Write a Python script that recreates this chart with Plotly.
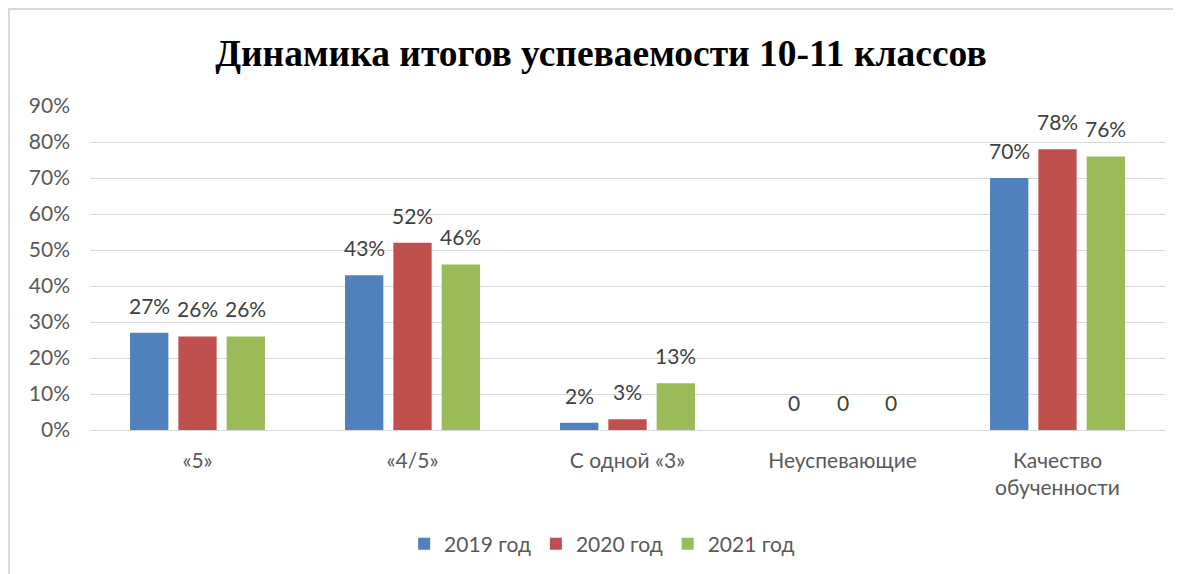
import plotly.graph_objects as go

categories = ["«5»", "«4/5»", "С одной «3»", "Неуспевающие", "Качество<br>обученности"]
series_names = ["2019 год", "2020 год", "2021 год"]
values_2019 = [27, 43, 2, 0, 70]
values_2020 = [26, 52, 3, 0, 78]
values_2021 = [26, 46, 13, 0, 76]
colors = ["#4F81BD", "#C0504D", "#9BBB59"]
y_tick_step = 10
y_max = 90

FONT = "Lato, Calibri, Carlito, sans-serif"
SLOT_PX = 48.3  # horizontal pitch of bars within a group (pixels)

def labels(vals):
    return ["0" if v == 0 else f"{v}%" for v in vals]

fig = go.Figure()
all_series = [values_2019, values_2020, values_2021]
for name, vals, col in zip(series_names, all_series, colors):
    fig.add_trace(go.Bar(
        x=categories, y=vals, name=name,
        marker=dict(color=col, line=dict(width=0)),
    ))

# data labels placed above each bar
for i, vals in enumerate(all_series):
    for cat, v, t in zip(categories, vals, labels(vals)):
        fig.add_annotation(x=cat, y=v, xref="x", yref="y", text=t, showarrow=False,
                           xanchor="center", yanchor="bottom",
                           xshift=(i - 1) * SLOT_PX, yshift=13,
                           font=dict(family=FONT, size=21, color="#404040"))

fig.update_layout(
    width=1173, height=566,
    margin=dict(l=82, r=16, t=98, b=144),
    paper_bgcolor="white", plot_bgcolor="white",
    barmode="group", bargap=0.326, bargroupgap=0.207,
    title=dict(text="<b>Динамика итогов успеваемости 10-11 классов</b>",
               x=0.5055, xref="container", xanchor="center",
               y=0.92, yref="container", yanchor="middle",
               font=dict(family="Liberation Serif, Times New Roman, serif", size=37.5, color="black")),
    legend=dict(orientation="h", x=0.5065, xref="container", xanchor="center",
                y=0.053, yref="container", yanchor="middle",
                font=dict(family=FONT, size=21, color="#595959"),
                itemwidth=30, traceorder="normal"),
    font=dict(family=FONT, color="#595959"),
    showlegend=True,
)
fig.update_yaxes(range=[0, y_max], tickmode="linear", tick0=0, dtick=y_tick_step, ticksuffix="%",
                 showgrid=True, gridcolor="#d9d9d9", gridwidth=1,
                 zeroline=True, zerolinecolor="#d9d9d9", zerolinewidth=1,
                 showline=False, tickfont=dict(family=FONT, size=21, color="#595959"),
                 ticklabelstandoff=19, fixedrange=True)
fig.update_xaxes(showline=False, tickfont=dict(family=FONT, size=21, color="#595959"),
                 ticklabelstandoff=16, fixedrange=True)

# chart frame
fig.add_shape(type="rect", xref="paper", yref="paper",
              x0=(9 - 90) / 1075, x1=1.05, y0=-0.6, y1=(430 - 9) / 324,
              line=dict(color="#d9d9d9", width=2), fillcolor="rgba(0,0,0,0)", layer="below")

fig.write_html("out.html")
